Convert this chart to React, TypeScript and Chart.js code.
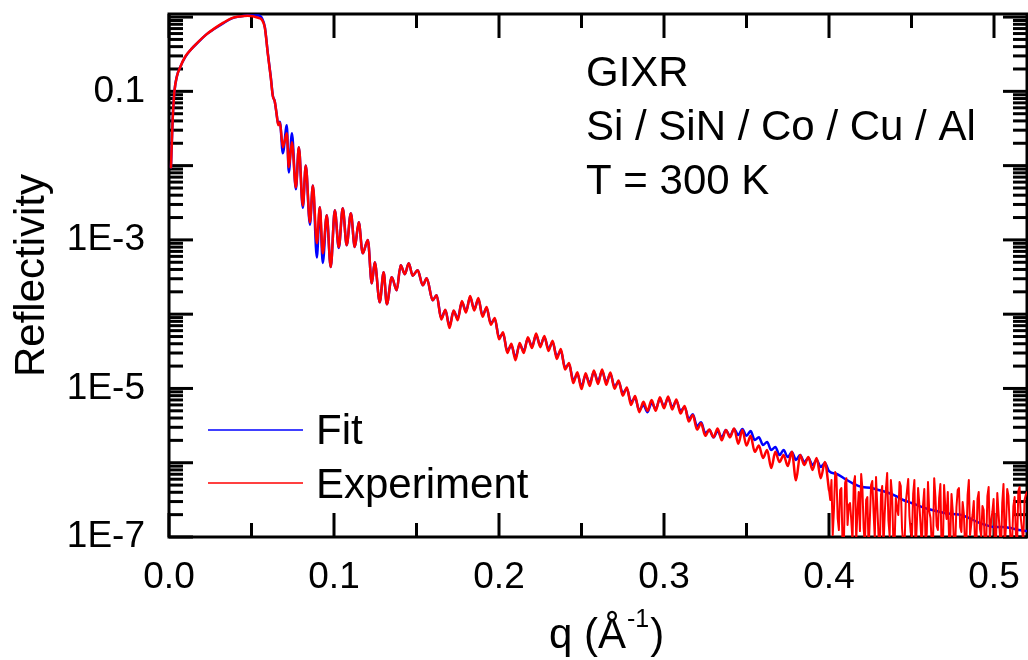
import React, { useEffect, useRef } from 'react';
import { Chart, registerables } from 'chart.js';

Chart.register(...registerables);

const FONT = "'Liberation Sans', Arial, Helvetica, sans-serif";

// ---------- data ----------
// q (1/Å) for the critical-edge and low-q fringe region (shared by fit and experiment)
const qEdge = [
  0.0012, 0.0022, 0.0033, 0.0048, 0.0067, 0.0097, 0.0135, 0.0176, 0.0225, 0.0278,
  0.033, 0.0381, 0.043, 0.0478, 0.054, 0.0563, 0.0581, 0.0599, 0.0617, 0.0629,
  0.0641, 0.0652, 0.0662, 0.0672, 0.069, 0.0714, 0.0726, 0.0745, 0.0769, 0.0787,
  0.0811, 0.0829, 0.0854, 0.0872, 0.0896, 0.0914, 0.0932, 0.0956, 0.098, 0.1005,
  0.1029, 0.1053, 0.1077, 0.1102, 0.1126, 0.115, 0.1174, 0.1205, 0.1229, 0.1247,
  0.1277, 0.1301, 0.132, 0.135, 0.138, 0.1404, 0.1429, 0.1453, 0.1477, 0.1507,
  0.1538, 0.1562, 0.1598, 0.1622,
];
const rFitEdge = [
  0.0095, 0.041, 0.1, 0.16, 0.21, 0.287, 0.37, 0.456, 0.58, 0.70,
  0.83, 0.96, 1.02, 1.05, 1.05, 0.97, 0.73, 0.325, 0.155, 0.088,
  0.073, 0.05, 0.036, 0.039, 0.0147, 0.035, 0.0081, 0.0272, 0.0048, 0.0177,
  0.0027, 0.01, 0.0016, 0.0054, 0.00058, 0.00275, 0.00049, 0.00215, 0.00043, 0.0025,
  0.00078, 0.00267, 0.00085, 0.00229, 0.0008, 0.00173, 0.00066, 0.001, 0.00026, 0.0005,
  0.000145, 0.000367, 0.000136, 0.000315, 0.00021, 0.000456, 0.000345, 0.000485, 0.00033, 0.00039,
  0.000245, 0.000305, 0.000154, 0.00018,
];
const rExpEdge = [
  0.0095, 0.041, 0.1, 0.16, 0.21, 0.29, 0.37, 0.46, 0.58, 0.71,
  0.84, 0.97, 1.02, 1.04, 0.98, 0.92, 0.72, 0.32, 0.152, 0.087,
  0.073, 0.05, 0.035, 0.038, 0.0177, 0.0272, 0.0095, 0.0206, 0.0051, 0.0177,
  0.0029, 0.01, 0.00173, 0.0054, 0.0009, 0.00275, 0.00066, 0.00215, 0.00043, 0.0025,
  0.0008, 0.00267, 0.00085, 0.00229, 0.0008, 0.00173, 0.00066, 0.001, 0.00026, 0.0005,
  0.000145, 0.000367, 0.000136, 0.000315, 0.00021, 0.000456, 0.000345, 0.000485, 0.00033, 0.00039,
  0.000245, 0.000305, 0.000154, 0.00018,
];

// q for the mid range with the fine thickness fringes (shared)
const qMid = [
  0.165, 0.1675, 0.17, 0.1725, 0.175, 0.1775, 0.18, 0.1825, 0.185, 0.1875,
  0.19, 0.1925, 0.195, 0.1975, 0.2, 0.2025, 0.205, 0.2075, 0.21, 0.2125,
  0.215, 0.2175, 0.22, 0.2225, 0.225, 0.2275, 0.23, 0.2325, 0.235, 0.2375,
  0.24, 0.2425, 0.245, 0.2475, 0.25, 0.2525, 0.255, 0.2575, 0.26, 0.2625,
  0.265, 0.2675, 0.27, 0.2725, 0.275, 0.2775, 0.28, 0.2825, 0.285, 0.2875,
  0.29, 0.2925, 0.295, 0.2975, 0.3, 0.3025, 0.305, 0.3075, 0.31, 0.3125,
  0.315, 0.3175, 0.32, 0.3225, 0.325, 0.3275, 0.33, 0.3325, 0.335, 0.3375,
  0.34, 0.3425, 0.345, 0.3475, 0.35, 0.3525, 0.355, 0.3575, 0.36, 0.3625,
  0.365, 0.3675, 0.37, 0.3725, 0.375, 0.3775, 0.38, 0.3825, 0.385, 0.3875,
  0.39, 0.3925, 0.395, 0.3975, 0.4,
];
const rFitMid = [
  8.8e-5, 1.13e-4, 6.9e-5, 1.1e-4, 8.8e-5, 1.45e-4, 1.1e-4, 1.69e-4, 1.17e-4, 1.59e-4,
  9.7e-5, 1.2e-4, 7.6e-5, 8.5e-5, 4.9e-5, 5.4e-5, 3.2e-5, 3.8e-5, 2.6e-5, 3.9e-5,
  3.2e-5, 4.7e-5, 3.7e-5, 5.2e-5, 3.8e-5, 4.9e-5, 3.4e-5, 4.2e-5, 2.7e-5, 3.2e-5,
  1.93e-5, 2.1e-5, 1.29e-5, 1.56e-5, 1.07e-5, 1.51e-5, 1.18e-5, 1.66e-5, 1.25e-5, 1.71e-5,
  1.22e-5, 1.56e-5, 1.07e-5, 1.22e-5, 8.7e-6, 9.8e-6, 6.6e-6, 7.4e-6, 5.1e-6, 6.0e-6,
  4.8e-6, 6.4e-6, 5.3e-6, 7.2e-6, 5.8e-6, 7.4e-6, 5.6e-6, 6.8e-6, 5.0e-6, 5.6e-6,
  3.9e-6, 4.5e-6, 3.1e-6, 3.5e-6, 2.5e-6, 2.75e-6, 2.2e-6, 2.67e-6, 2.2e-6, 2.75e-6,
  2.3e-6, 2.85e-6, 2.36e-6, 2.85e-6, 2.3e-6, 2.67e-6, 2.02e-6, 2.2e-6, 1.73e-6, 1.9e-6,
  1.48e-6, 1.63e-6, 1.27e-6, 1.48e-6, 1.19e-6, 1.39e-6, 1.09e-6, 1.27e-6, 1.02e-6, 1.16e-6,
  9.3e-7, 1.09e-6, 8.75e-7, 9.9e-7, 7.7e-7,
];
const rExpMid = [
  8.5e-5, 1.15e-4, 6.5e-5, 1.12e-4, 8.3e-5, 1.5e-4, 1.05e-4, 1.75e-4, 1.12e-4, 1.65e-4,
  9.2e-5, 1.25e-4, 7.2e-5, 8.9e-5, 4.6e-5, 5.7e-5, 3.0e-5, 4.0e-5, 2.4e-5, 4.1e-5,
  3.0e-5, 4.9e-5, 3.5e-5, 5.5e-5, 3.6e-5, 5.1e-5, 3.2e-5, 4.4e-5, 2.5e-5, 3.4e-5,
  1.8e-5, 2.2e-5, 1.18e-5, 1.65e-5, 9.8e-6, 1.6e-5, 1.08e-5, 1.75e-5, 1.15e-5, 1.8e-5,
  1.12e-5, 1.64e-5, 9.9e-6, 1.28e-5, 8.0e-6, 1.03e-5, 6.0e-6, 7.9e-6, 4.8e-6, 6.6e-6,
  5.0e-6, 7.0e-6, 5.0e-6, 7.6e-6, 5.4e-6, 7.8e-6, 5.2e-6, 7.1e-6, 4.6e-6, 5.8e-6,
  3.6e-6, 4.4e-6, 2.8e-6, 3.4e-6, 2.3e-6, 2.8e-6, 2.2e-6, 2.9e-6, 2.0e-6, 2.75e-6,
  2.2e-6, 2.9e-6, 1.8e-6, 2.75e-6, 1.7e-6, 2.3e-6, 1.4e-6, 1.7e-6, 1.16e-6, 1.48e-6,
  8.5e-7, 1.4e-6, 1.02e-6, 1.27e-6, 9.0e-7, 1.4e-6, 5.8e-7, 1.27e-6, 9.3e-7, 1.19e-6,
  8.0e-7, 1.16e-6, 6.2e-7, 1.02e-6, 4.3e-7,
];

// high-q tail of the fit
const qFitTail = [
  0.405, 0.41, 0.415, 0.42, 0.425, 0.43, 0.435, 0.44, 0.445, 0.45, 0.455, 0.46,
  0.465, 0.47, 0.475, 0.48, 0.485, 0.49, 0.495, 0.5, 0.505, 0.51, 0.515, 0.52,
];
const rFitTail = [
  7.0e-7, 6.0e-7, 5.2e-7, 4.7e-7, 4.6e-7, 4.3e-7, 4.0e-7, 3.6e-7, 3.15e-7, 2.87e-7, 2.6e-7, 2.38e-7,
  2.24e-7, 2.1e-7, 2.04e-7, 1.98e-7, 1.8e-7, 1.59e-7, 1.45e-7, 1.36e-7, 1.36e-7, 1.32e-7, 1.24e-7, 1.2e-7,
];

// noisy high-q tail of the measurement (two interleaved read-outs)
const qExpTailA = [
  0.4015, 0.403, 0.4045, 0.406, 0.4075, 0.409, 0.4105, 0.412, 0.4135, 0.415,
  0.4165, 0.418, 0.4195, 0.421, 0.4225, 0.424, 0.4255, 0.427, 0.4285, 0.43,
  0.4315, 0.433, 0.4345, 0.436, 0.4375, 0.439, 0.4405, 0.442, 0.4435, 0.445,
  0.4465, 0.448, 0.4495, 0.451, 0.4525, 0.454, 0.4555, 0.457, 0.4585, 0.46,
  0.4615, 0.463, 0.4645, 0.466, 0.4675, 0.469, 0.4705, 0.472, 0.4735, 0.475,
  0.4765, 0.478, 0.4795, 0.481, 0.4825, 0.484, 0.4855, 0.487, 0.4885, 0.49,
  0.4915, 0.493, 0.4945, 0.496, 0.4975, 0.499, 0.5005, 0.502, 0.5035, 0.505,
  0.5065, 0.508, 0.5095, 0.511, 0.5125, 0.514, 0.5155, 0.517, 0.5185, 0.52,
];
const rExpTailA = [
  5.85e-7, 2.31e-7, 6.83e-7, 1.24e-7, 4.57e-7, 7.8e-8, 6.2e-7, 2.7e-7, 1.69e-7, 5.33e-7,
  9.1e-8, 4.03e-7, 7.05e-7, 1.32e-7, 3.15e-7, 6.7e-8, 5.0e-7, 2.17e-7, 6.4e-7, 1.06e-7,
  3.68e-7, 7.1e-8, 4.43e-7, 1.69e-7, 5.85e-7, 8.5e-8, 3.35e-7, 1.98e-7, 4.86e-7, 7.8e-8,
  2.87e-7, 6.03e-7, 1.17e-7, 3.79e-7, 6.3e-8, 4.57e-7, 1.45e-7, 2.7e-7, 9.1e-8, 5.5e-7,
  1.8e-7, 7.3e-8, 3.45e-7, 1.24e-7, 5.17e-7, 6.7e-8, 2.45e-7, 4.03e-7, 9.7e-8, 2.24e-7,
  7.8e-8, 4.29e-7, 1.36e-7, 2.96e-7, 6.9e-8, 3.68e-7, 1.06e-7, 1.98e-7, 8.3e-8, 3.25e-7,
  1.28e-7, 2.61e-7, 6.3e-8, 3.56e-7, 9.1e-8, 2.17e-7, 7.1e-8, 3.91e-7, 1.13e-7, 2.87e-7,
  7.6e-8, 4.43e-7, 1.45e-7, 9.1e-8, 3.45e-7, 8.0e-8, 4.71e-7, 1.24e-7, 3.15e-7, 4.03e-7,
];
const qExpTailB = [
  0.40075, 0.40225, 0.40375, 0.40525, 0.40675, 0.40825, 0.40975, 0.41125, 0.41275, 0.41425,
  0.41575, 0.41725, 0.41875, 0.42025, 0.42175, 0.42325, 0.42475, 0.42625, 0.42775, 0.42925,
  0.43075, 0.43225, 0.43375, 0.43525, 0.43675, 0.43825, 0.43975, 0.44125, 0.44275, 0.44425,
  0.44575, 0.44725, 0.44875, 0.45025, 0.45175, 0.45325, 0.45475, 0.45625, 0.45775, 0.45925,
  0.46075, 0.46225, 0.46375, 0.46525, 0.46675, 0.46825, 0.46975, 0.47125, 0.47275, 0.47425,
  0.47575, 0.47725, 0.47875, 0.48025, 0.48175, 0.48325, 0.48475, 0.48625, 0.48775, 0.48925,
  0.49075, 0.49225, 0.49375, 0.49525, 0.49675, 0.49825, 0.49975, 0.50125, 0.50275, 0.50425,
  0.50575, 0.50725, 0.50875, 0.51025, 0.51175, 0.51325, 0.51475, 0.51625, 0.51775, 0.51925,
];
const rExpTailB = [
  3.15e-7, 1.06e-7, 7.5e-7, 1.8e-7, 4.29e-7, 7.1e-8, 5.33e-7, 1.45e-7, 2.87e-7, 8.8e-8,
  6.6e-7, 2.17e-7, 1.2e-7, 4.57e-7, 7.8e-8, 3.45e-7, 1.69e-7, 5.67e-7, 9.4e-8, 2.61e-7,
  6.3e-8, 4.86e-7, 1.98e-7, 7.26e-7, 1.03e-7, 3.68e-7, 8.0e-8, 2.38e-7, 5.5e-7, 1.32e-7,
  6.9e-8, 4.16e-7, 1.92e-7, 9.7e-8, 5.85e-7, 1.54e-7, 2.78e-7, 7.3e-8, 4.43e-7, 1.1e-7,
  2.24e-7, 8.3e-8, 6.2e-7, 1.41e-7, 3.35e-7, 6.5e-8, 5.0e-7, 1.75e-7, 1.0e-7, 3.79e-7,
  7.6e-8, 2.53e-7, 4.57e-7, 1.17e-7, 2.04e-7, 8.5e-8, 5.85e-7, 1.5e-7, 3.05e-7, 7.1e-8,
  4.03e-7, 1.03e-7, 2.31e-7, 8.0e-8, 4.71e-7, 1.64e-7, 3.25e-7, 9.4e-8, 2.1e-7, 6.7e-8,
  5.17e-7, 1.36e-7, 3.56e-7, 7.8e-8, 2.61e-7, 1.13e-7, 4.16e-7, 1.8e-7, 8.8e-8, 3.68e-7,
];

// axes / labels
const xMajorTicks = [0, 0.1, 0.2, 0.3, 0.4, 0.5];
const xMinorTicks = [0.05, 0.15, 0.25, 0.35, 0.45];
const yDecades = [1e-7, 1e-6, 1e-5, 1e-4, 1e-3, 1e-2, 0.1, 1];
const yTickLabels = ['1E-7', '', '1E-5', '', '1E-3', '', '0.1', ''];
const seriesLabels = ['Fit', 'Experiment'];
const seriesColors = ['#0000ff', '#ff0000'];
const noteLines = ['GIXR', 'Si / SiN / Co / Cu / Al', 'T = 300 K'];

function pts(q: number[], r: number[]) {
  const n = Math.min(q.length, r.length);
  const out: { x: number; y: number }[] = [];
  for (let i = 0; i < n; i++) out.push({ x: q[i], y: r[i] });
  return out;
}

const framePlugin = {
  id: 'originFrame',
  beforeDatasetsDraw(chart: any) {
    const { ctx, chartArea: a } = chart;
    const xs = chart.scales.x;
    const ys = chart.scales.y;
    ctx.save();
    ctx.strokeStyle = '#000';
    ctx.lineWidth = 3;
    ctx.lineCap = 'butt';
    const seg = (x1: number, y1: number, x2: number, y2: number) => {
      ctx.beginPath();
      ctx.moveTo(x1, y1);
      ctx.lineTo(x2, y2);
      ctx.stroke();
    };
    const MAJ = 24;
    const MIN = 14;
    xMajorTicks.forEach((v) => {
      const p = xs.getPixelForValue(v);
      seg(p, a.bottom, p, a.bottom - MAJ);
      seg(p, a.top, p, a.top + MAJ);
    });
    xMinorTicks.forEach((v) => {
      const p = xs.getPixelForValue(v);
      seg(p, a.bottom, p, a.bottom - MIN);
      seg(p, a.top, p, a.top + MIN);
    });
    const yMax = ys.max;
    yDecades.forEach((d) => {
      const p = ys.getPixelForValue(d);
      seg(a.left, p, a.left + MAJ, p);
      seg(a.right, p, a.right - MAJ, p);
      for (let m = 2; m <= 9; m++) {
        const v = d * m;
        if (v > yMax) break;
        const pm = ys.getPixelForValue(v);
        seg(a.left, pm, a.left + MIN, pm);
        seg(a.right, pm, a.right - MIN, pm);
      }
    });
    ctx.strokeRect(a.left, a.top, a.right - a.left, a.bottom - a.top);
    ctx.restore();
  },
  afterDraw(chart: any) {
    const { ctx, chartArea: a } = chart;
    ctx.save();
    ctx.fillStyle = '#000';
    ctx.font = `42px ${FONT}`;
    ctx.textAlign = 'left';
    ctx.textBaseline = 'alphabetic';
    const noteBase = [86, 140, 194];
    noteLines.forEach((t, i) => ctx.fillText(t, 586, noteBase[i]));
    // legend
    const legY = [430, 483];
    const legBase = [444, 498];
    seriesLabels.forEach((t, i) => {
      ctx.strokeStyle = seriesColors[i];
      ctx.lineWidth = 1.5;
      ctx.beginPath();
      ctx.moveTo(208, legY[i]);
      ctx.lineTo(303, legY[i]);
      ctx.stroke();
      ctx.fillStyle = '#000';
      ctx.fillText(t, 316, legBase[i]);
    });
    // x title: q (Å^-1)
    const part1 = 'q (Å';
    const sup = '-1';
    const part3 = ')';
    ctx.font = `42px ${FONT}`;
    const w1 = ctx.measureText(part1).width;
    ctx.font = `25px ${FONT}`;
    const w2 = ctx.measureText(sup).width;
    const x0 = 549;
    ctx.font = `42px ${FONT}`;
    ctx.fillText(part1, x0, 648);
    ctx.font = `25px ${FONT}`;
    ctx.fillText(sup, x0 + w1 + 1, 627);
    ctx.font = `42px ${FONT}`;
    ctx.fillText(part3, x0 + w1 + w2 + 2, 648);
    // y title
    ctx.translate(44, (a.top + a.bottom) / 2);
    ctx.rotate(-Math.PI / 2);
    ctx.textAlign = 'center';
    ctx.fillText('Reflectivity', 0, 0);
    ctx.restore();
  },
};

const zeroPad = (s: any) => {
  s.paddingTop = 0;
  s.paddingBottom = 0;
  s.paddingLeft = 0;
  s.paddingRight = 0;
};

export default function App() {
  const ref = useRef<HTMLCanvasElement | null>(null);
  useEffect(() => {
    const prev = document.body.style.margin;
    document.body.style.margin = '0';
    const fitData = [...pts(qEdge, rFitEdge), ...pts(qMid, rFitMid), ...pts(qFitTail, rFitTail)];
    const expMain = [...pts(qEdge, rExpEdge), ...pts(qMid, rExpMid)];
    const expNoise = [
      expMain[expMain.length - 1],
      ...[...pts(qExpTailA, rExpTailA), ...pts(qExpTailB, rExpTailB)].sort((p, q) => p.x - q.x),
    ];
    const common = {
      borderWidth: 2.5,
      pointRadius: 0,
      borderJoinStyle: 'round',
      borderCapStyle: 'round',
    };
    const chart = new Chart(ref.current as HTMLCanvasElement, {
      type: 'line',
      data: {
        datasets: [
          { ...common, label: seriesLabels[1], data: expNoise, borderColor: seriesColors[1], borderWidth: 2, tension: 0, order: 0 },
          { ...common, label: seriesLabels[1], data: expMain, borderColor: seriesColors[1], cubicInterpolationMode: 'monotone', order: 1 },
          { ...common, label: seriesLabels[0], data: fitData, borderColor: seriesColors[0], cubicInterpolationMode: 'monotone', order: 2 },
        ],
      },
      options: {
        animation: false,
        responsive: false,
        devicePixelRatio: 1,
        parsing: false,
        normalized: true,
        events: [],
        layout: { padding: { top: 14, right: 1, left: 0, bottom: 0 } },
        plugins: { legend: { display: false }, tooltip: { enabled: false }, title: { display: false } },
        scales: {
          x: {
            type: 'linear',
            min: 0,
            max: 0.52,
            grid: { display: false, drawTicks: false },
            border: { display: false },
            ticks: {
              font: { family: FONT, size: 37 },
              color: '#000',
              padding: 19,
              maxRotation: 0,
              autoSkip: false,
              callback: (v: any) => Number(v).toFixed(1),
            },
            afterBuildTicks: (s: any) => {
              s.ticks = xMajorTicks.map((v) => ({ value: v }));
            },
            afterFit: (s: any) => {
              s.height = 123;
              zeroPad(s);
            },
          },
          y: {
            type: 'logarithmic',
            min: 1e-7,
            max: 1.1,
            grid: { display: false, drawTicks: false },
            border: { display: false },
            ticks: {
              font: { family: FONT, size: 37 },
              color: '#000',
              padding: 24,
              autoSkip: false,
              callback: (_v: any, i: number) => yTickLabels[i] ?? '',
            },
            afterBuildTicks: (s: any) => {
              s.ticks = yDecades.map((v) => ({ value: v }));
            },
            afterFit: (s: any) => {
              s.width = 169;
              zeroPad(s);
            },
          },
        },
      } as any,
      plugins: [framePlugin],
    });
    return () => {
      chart.destroy();
      document.body.style.margin = prev;
    };
  }, []);
  return (
    <div style={{ position: 'absolute', left: 0, top: 0, width: 1028, height: 660, background: '#fff' }}>
      <canvas ref={ref} width={1028} height={660} style={{ display: 'block', width: 1028, height: 660 }} />
    </div>
  );
}
